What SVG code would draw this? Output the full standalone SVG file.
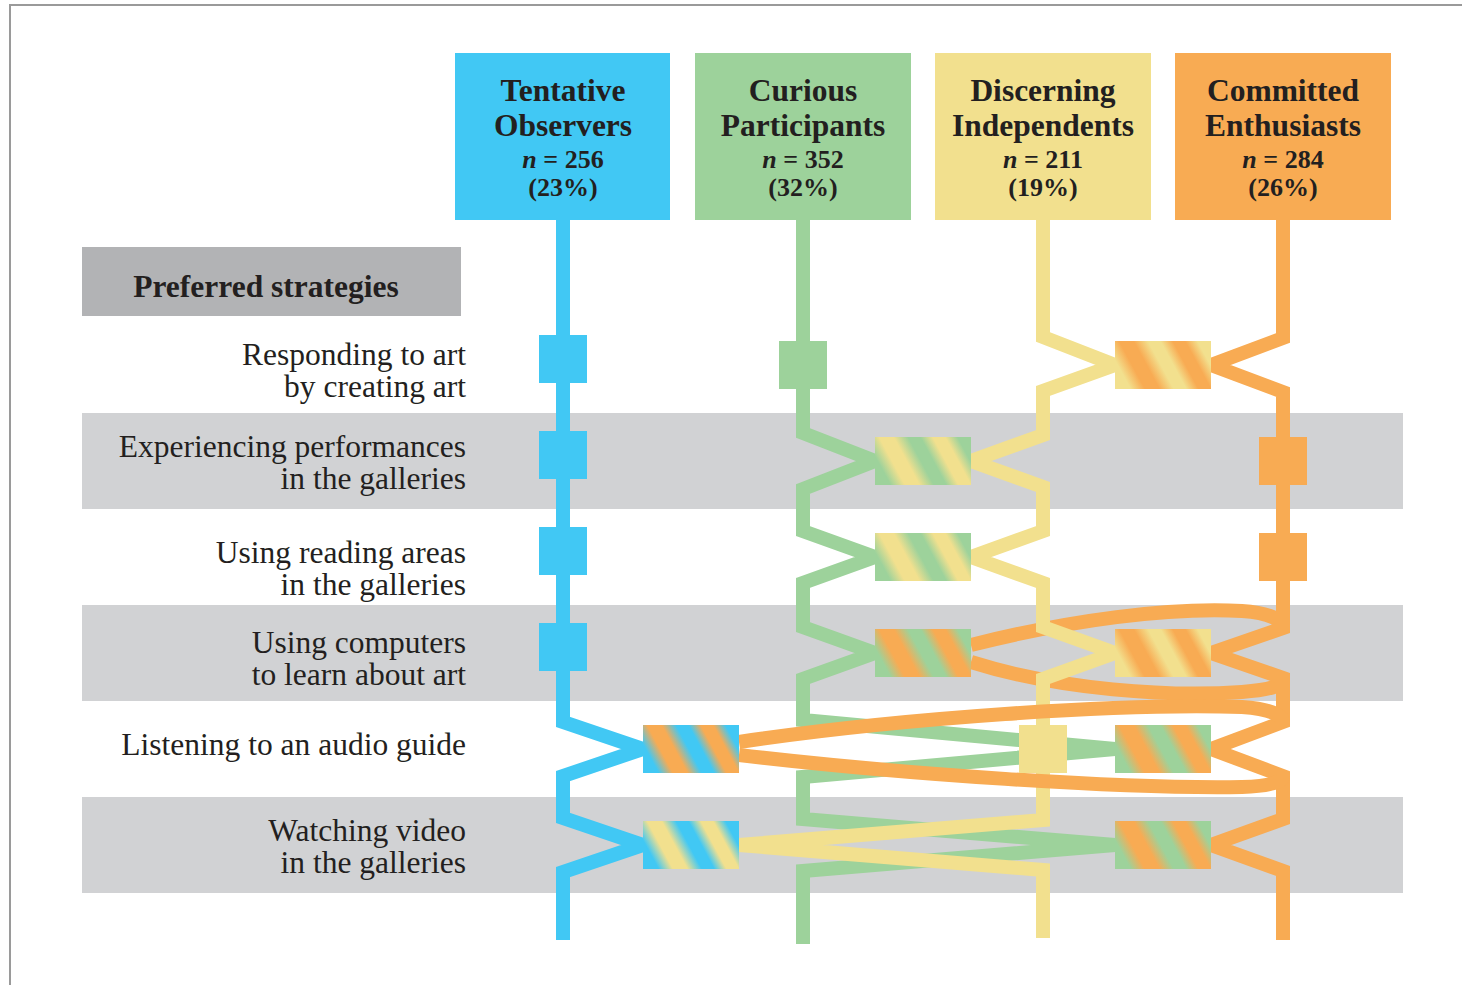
<svg xmlns="http://www.w3.org/2000/svg" width="1462" height="985" viewBox="0 0 1462 985">
<defs>
<style>
.hd{font-family:"Liberation Serif","Times New Roman",serif;font-weight:bold;fill:#231f20;text-anchor:middle}
.t1{font-size:31.5px}
.t2{font-size:26px}
.lb{font-family:"Liberation Serif","Times New Roman",serif;font-size:31.5px;fill:#231f20;text-anchor:end}
.ln{fill:none;stroke-width:14;stroke-linejoin:miter;stroke-miterlimit:4}
.cb{stroke:#41c8f4}.cg{stroke:#9dd29b}.cy{stroke:#f2e08e}.co{stroke:#f8ab53}
.band{fill:#d1d2d4}
</style>
<linearGradient id="g-yo" x1="0" y1="0.635" x2="1" y2="0.365">
<stop offset="0" stop-color="#f2e08e"/><stop offset="0.06" stop-color="#f2e08e"/><stop offset="0.2" stop-color="#f8ab53"/><stop offset="0.34" stop-color="#f8ab53"/><stop offset="0.48" stop-color="#f2e08e"/><stop offset="0.6" stop-color="#f2e08e"/><stop offset="0.72" stop-color="#f8ab53"/><stop offset="0.84" stop-color="#f8ab53"/><stop offset="0.96" stop-color="#f2e08e"/><stop offset="1" stop-color="#f2e08e"/>
</linearGradient>
<linearGradient id="g-gy" x1="0" y1="0.635" x2="1" y2="0.365">
<stop offset="0" stop-color="#9dd29b"/><stop offset="0.06" stop-color="#9dd29b"/><stop offset="0.2" stop-color="#f2e08e"/><stop offset="0.34" stop-color="#f2e08e"/><stop offset="0.48" stop-color="#9dd29b"/><stop offset="0.6" stop-color="#9dd29b"/><stop offset="0.72" stop-color="#f2e08e"/><stop offset="0.84" stop-color="#f2e08e"/><stop offset="0.96" stop-color="#9dd29b"/><stop offset="1" stop-color="#9dd29b"/>
</linearGradient>
<linearGradient id="g-go" x1="0" y1="0.635" x2="1" y2="0.365">
<stop offset="0" stop-color="#9dd29b"/><stop offset="0.06" stop-color="#9dd29b"/><stop offset="0.2" stop-color="#f8ab53"/><stop offset="0.34" stop-color="#f8ab53"/><stop offset="0.48" stop-color="#9dd29b"/><stop offset="0.6" stop-color="#9dd29b"/><stop offset="0.72" stop-color="#f8ab53"/><stop offset="0.84" stop-color="#f8ab53"/><stop offset="0.96" stop-color="#9dd29b"/><stop offset="1" stop-color="#9dd29b"/>
</linearGradient>
<linearGradient id="g-bo" x1="0" y1="0.635" x2="1" y2="0.365">
<stop offset="0" stop-color="#41c8f4"/><stop offset="0.06" stop-color="#41c8f4"/><stop offset="0.2" stop-color="#f8ab53"/><stop offset="0.34" stop-color="#f8ab53"/><stop offset="0.48" stop-color="#41c8f4"/><stop offset="0.6" stop-color="#41c8f4"/><stop offset="0.72" stop-color="#f8ab53"/><stop offset="0.84" stop-color="#f8ab53"/><stop offset="0.96" stop-color="#41c8f4"/><stop offset="1" stop-color="#41c8f4"/>
</linearGradient>
<linearGradient id="g-by" x1="0" y1="0.635" x2="1" y2="0.365">
<stop offset="0" stop-color="#41c8f4"/><stop offset="0.06" stop-color="#41c8f4"/><stop offset="0.2" stop-color="#f2e08e"/><stop offset="0.34" stop-color="#f2e08e"/><stop offset="0.48" stop-color="#41c8f4"/><stop offset="0.6" stop-color="#41c8f4"/><stop offset="0.72" stop-color="#f2e08e"/><stop offset="0.84" stop-color="#f2e08e"/><stop offset="0.96" stop-color="#41c8f4"/><stop offset="1" stop-color="#41c8f4"/>
</linearGradient>
</defs>

<rect x="0" y="0" width="1462" height="985" fill="#ffffff"/>
<path d="M10 985 V5 H1462" fill="none" stroke="#9a9a9a" stroke-width="2"/>

<g id="bands">
<rect class="band" x="82" y="413" width="1321" height="96"/>
<rect class="band" x="82" y="605" width="1321" height="96"/>
<rect class="band" x="82" y="797" width="1321" height="96"/>
</g>

<g id="preferred-strategies">
<rect x="82" y="247" width="379" height="69" fill="#b2b3b5"/>
<text class="hd t1" x="266" y="297">Preferred strategies</text>
</g>

<g id="row-labels">
<g id="label-responding"><text class="lb" x="466" y="365">Responding to art</text><text class="lb" x="466" y="397">by creating art</text></g>
<g id="label-performances"><text class="lb" x="466" y="457">Experiencing performances</text><text class="lb" x="466" y="489">in the galleries</text></g>
<g id="label-reading"><text class="lb" x="466" y="563">Using reading areas</text><text class="lb" x="466" y="595">in the galleries</text></g>
<g id="label-computers"><text class="lb" x="466" y="653">Using computers</text><text class="lb" x="466" y="685">to learn about art</text></g>
<g id="label-audio"><text class="lb" x="466" y="755">Listening to an audio guide</text></g>
<g id="label-video"><text class="lb" x="466" y="841">Watching video</text><text class="lb" x="466" y="873">in the galleries</text></g>
</g>

<g id="connectors">
<polyline class="ln cg" points="803,220 803,433 875,461 803,489 803,531 875,557 803,583 803,627 875,653 803,679 803,720 1115,749 803,777 803,819 1115,845 803,871 803,944"/>
<path class="ln co" d="M971 645 C1070 620 1170 607 1242 611 C1270 613 1283 620 1283 628"/>
<path class="ln co" d="M971 662 C1060 690 1170 697 1242 692 C1270 690 1283 686 1283 678"/>
<polyline class="ln cy" points="1043,220 1043,337 1115,365 1043,391 1043,435 971,461 1043,487 1043,531 971,557 1043,583 1043,627 1115,653 1043,679 1043,820 739,845 1043,870 1043,938"/>
<polyline class="ln co" points="1283,220 1283,338 1211,365 1283,392 1283,628 1211,653 1283,678 1283,722 1211,749 1283,776 1283,819 1211,845 1283,871 1283,940"/>
<path class="ln co" d="M739 742 C900 718 1120 703 1242 707 C1270 709 1283 715 1283 722"/>
<path class="ln co" d="M739 755 C900 774 1120 789 1242 787 C1270 786 1283 782 1283 776"/>
<polyline class="ln cb" points="563,220 563,722 643,749 563,776 563,818 643,845 563,872 563,940"/>
</g>

<g id="node-tentative">
<rect x="455" y="53" width="215" height="167" fill="#41c8f4"/>
<text class="hd t1" x="563" y="101">Tentative</text>
<text class="hd t1" x="563" y="136">Observers</text>
<text class="hd t2" x="563" y="168"><tspan font-style="italic">n</tspan> = 256</text>
<text class="hd t2" x="563" y="196">(23%)</text>
</g>
<g id="node-curious">
<rect x="695" y="53" width="216" height="167" fill="#9dd29b"/>
<text class="hd t1" x="803" y="101">Curious</text>
<text class="hd t1" x="803" y="136">Participants</text>
<text class="hd t2" x="803" y="168"><tspan font-style="italic">n</tspan> = 352</text>
<text class="hd t2" x="803" y="196">(32%)</text>
</g>
<g id="node-discerning">
<rect x="935" y="53" width="216" height="167" fill="#f2e08e"/>
<text class="hd t1" x="1043" y="101">Discerning</text>
<text class="hd t1" x="1043" y="136">Independents</text>
<text class="hd t2" x="1043" y="168"><tspan font-style="italic">n</tspan> = 211</text>
<text class="hd t2" x="1043" y="196">(19%)</text>
</g>
<g id="node-committed">
<rect x="1175" y="53" width="216" height="167" fill="#f8ab53"/>
<text class="hd t1" x="1283" y="101">Committed</text>
<text class="hd t1" x="1283" y="136">Enthusiasts</text>
<text class="hd t2" x="1283" y="168"><tspan font-style="italic">n</tspan> = 284</text>
<text class="hd t2" x="1283" y="196">(26%)</text>
</g>

<g id="markers">
<g id="m-blue-1"><rect x="539" y="335" width="48" height="48" fill="#41c8f4"/></g>
<g id="m-blue-2"><rect x="539" y="431" width="48" height="48" fill="#41c8f4"/></g>
<g id="m-blue-3"><rect x="539" y="527" width="48" height="48" fill="#41c8f4"/></g>
<g id="m-blue-4"><rect x="539" y="623" width="48" height="48" fill="#41c8f4"/></g>
<g id="m-green-1"><rect x="779" y="341" width="48" height="48" fill="#9dd29b"/></g>
<g id="m-orange-2"><rect x="1259" y="437" width="48" height="48" fill="#f8ab53"/></g>
<g id="m-orange-3"><rect x="1259" y="533" width="48" height="48" fill="#f8ab53"/></g>
<g id="m-yellow-5"><rect x="1019" y="725" width="48" height="48" fill="#f2e08e"/></g>
<g id="m-yo-1"><rect x="1115" y="341" width="96" height="48" fill="url(#g-yo)"/></g>
<g id="m-gy-2"><rect x="875" y="437" width="96" height="48" fill="url(#g-gy)"/></g>
<g id="m-gy-3"><rect x="875" y="533" width="96" height="48" fill="url(#g-gy)"/></g>
<g id="m-go-4"><rect x="875" y="629" width="96" height="48" fill="url(#g-go)"/></g>
<g id="m-yo-4"><rect x="1115" y="629" width="96" height="48" fill="url(#g-yo)"/></g>
<g id="m-bo-5"><rect x="643" y="725" width="96" height="48" fill="url(#g-bo)"/></g>
<g id="m-go-5"><rect x="1115" y="725" width="96" height="48" fill="url(#g-go)"/></g>
<g id="m-by-6"><rect x="643" y="821" width="96" height="48" fill="url(#g-by)"/></g>
<g id="m-go-6"><rect x="1115" y="821" width="96" height="48" fill="url(#g-go)"/></g>
</g>
</svg>
